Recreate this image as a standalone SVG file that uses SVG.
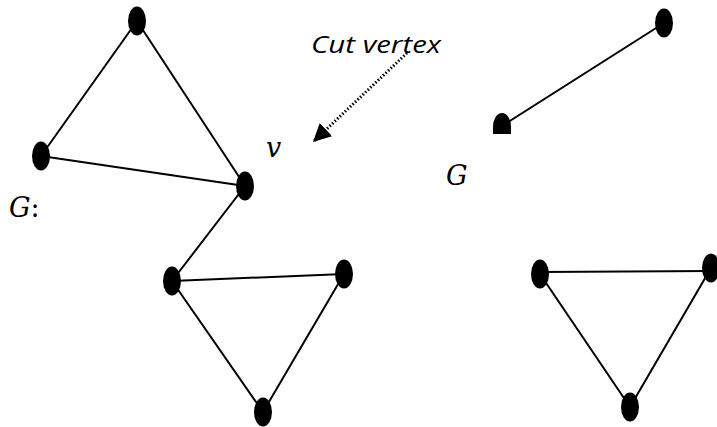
<svg xmlns="http://www.w3.org/2000/svg" width="717" height="427" viewBox="0 0 717 427">
<defs>
<style>
.e{stroke:#000;stroke-width:2;fill:none}
.n{fill:#000}
.lbl{font-family:"DejaVu Serif","Liberation Serif",serif;font-style:italic;font-size:27px;fill:#000}
.cut{font-family:"Open Sans","Liberation Sans",sans-serif;font-style:italic;font-size:23px;fill:#000}
</style>
<marker id="ah" markerWidth="6" markerHeight="6" refX="5.5" refY="3" orient="auto" markerUnits="strokeWidth">
<path d="M0,0 L6,3 L0,6 z" fill="#000"/>
</marker>
</defs>
<rect width="717" height="427" fill="#fff"/>
<g id="connectors">
<line class="e" x1="137" y1="21" x2="41" y2="156"/>
<line class="e" x1="137" y1="21" x2="245" y2="186"/>
<line class="e" x1="41" y1="156" x2="245" y2="186"/>
<line class="e" x1="245" y1="186" x2="172" y2="281"/>
<line class="e" x1="172" y1="281" x2="344" y2="274"/>
<line class="e" x1="172" y1="281" x2="263" y2="412"/>
<line class="e" x1="344" y1="274" x2="263" y2="412"/>
<line class="e" x1="664" y1="23" x2="502" y2="126"/>
<line class="e" x1="540" y1="272" x2="711" y2="271"/>
<line class="e" x1="540" y1="274" x2="630" y2="407"/>
<line class="e" x1="711" y1="268" x2="630" y2="407"/>
<line x1="407" y1="53" x2="314" y2="141" stroke="#000" stroke-width="3" stroke-dasharray="1.5 2" marker-end="url(#ah)"/>
</g>
<g id="n1"><ellipse class="n" cx="137" cy="21" rx="9" ry="14.5"/></g>
<g id="n2"><ellipse class="n" cx="41" cy="156" rx="9" ry="14.5"/></g>
<g id="n3"><ellipse class="n" cx="245" cy="186" rx="9" ry="14.5"/></g>
<g id="n4"><ellipse class="n" cx="172" cy="281" rx="9" ry="14.5"/></g>
<g id="n5"><ellipse class="n" cx="344" cy="274" rx="9" ry="14.5"/></g>
<g id="n6"><ellipse class="n" cx="263" cy="412" rx="9" ry="14.5"/></g>
<g id="n7"><ellipse class="n" cx="664" cy="23" rx="9" ry="14.5"/></g>
<g id="n8"><path class="n" d="M493,134 L493,127 A9,14 0 0 1 511,127 L511,134 Z"/></g>
<g id="n9"><ellipse class="n" cx="540" cy="274" rx="9" ry="14.5"/></g>
<g id="n10"><ellipse class="n" cx="711" cy="268" rx="9" ry="14.5"/></g>
<g id="n11"><ellipse class="n" cx="630" cy="407" rx="9" ry="14.5"/></g>
<g id="labels">
<text class="cut" x="311" y="53" textLength="130" lengthAdjust="spacingAndGlyphs">Cut vertex</text>
<text class="lbl" x="266" y="157" font-size="29">v</text>
<text class="lbl" x="446" y="185">G</text>
<text class="lbl" x="9" y="217">G<tspan font-style="normal">:</tspan></text>
</g>
</svg>
